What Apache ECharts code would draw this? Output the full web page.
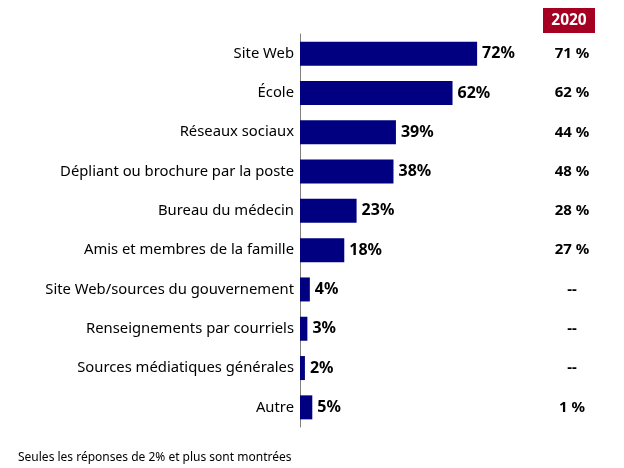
<!DOCTYPE html>
<html><head><meta charset="utf-8">
<script src="https://cdn.jsdelivr.net/npm/echarts@6/dist/echarts.min.js"></script>
<style>html,body{margin:0;padding:0;background:#fff}#c{width:624px;height:468px}</style>
</head><body><div id="c"></div>
<script>
const categories = ["Site Web","École","Réseaux sociaux","Dépliant ou brochure par la poste","Bureau du médecin","Amis et membres de la famille","Site Web/sources du gouvernement","Renseignements par courriels","Sources médiatiques générales","Autre"];
const values = [72,62,39,38,23,18,4,3,2,5];
const prior2020 = ["71 %","62 %","44 %","48 %","28 %","27 %","--","--","--","1 %"];
const yearLabel = "2020";
const footnote = "Seules les réponses de 2% et plus sont montrées";

const chart = echarts.init(document.getElementById('c'));
const font = "Noto Sans";
chart.setOption({
  animation:false,
  grid:{left:300, top:34, width:246, height:393},
  xAxis:{type:'value', min:0, max:100, show:false},
  yAxis:[{
    type:'category', data:categories, inverse:true,
    axisLine:{show:true, lineStyle:{color:'#808080', width:1}},
    axisTick:{show:false},
    axisLabel:{color:'#000', fontSize:14.8, fontFamily:font, margin:6}
  },{
    type:'category', data:prior2020, inverse:true, position:'right',
    axisLine:{show:false}, axisTick:{show:false},
    axisLabel:{color:'#000', fontSize:15, fontWeight:'bold', fontFamily:font, margin:26, align:'center'}
  }],
  series:[{
    type:'bar', data:values, barWidth:24,
    itemStyle:{color:'#000080'},
    label:{show:true, position:'right', distance:5, formatter:'{c}%', color:'#000', fontSize:16, fontWeight:'bold', fontFamily:font}
  }],
  graphic:[
    {type:'rect', shape:{x:543, y:8, width:52, height:25}, style:{fill:'#A50021'}},
    {type:'text', style:{x:569, y:21, text:yearLabel, fill:'#fff', fontSize:15.5, fontWeight:'bold', fontFamily:font, align:'center', verticalAlign:'middle'}},
    {type:'text', style:{x:18, y:458, text:footnote, fill:'#000', fontSize:12, fontFamily:font, verticalAlign:'middle'}}
  ]
});
</script></body></html>
